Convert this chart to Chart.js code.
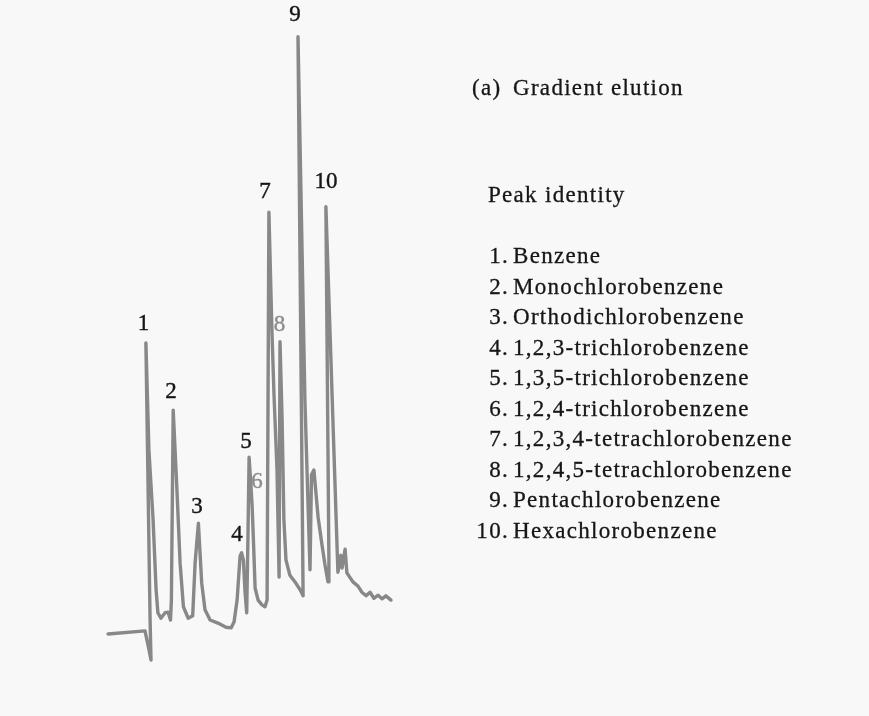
<!DOCTYPE html>
<html>
<head>
<meta charset="utf-8">
<script src="https://cdn.jsdelivr.net/npm/chart.js@4.4.1/dist/chart.umd.min.js"></script>
<style>
  body { margin: 0; background: #f8f8f8; }
  #wrap { position: relative; width: 869px; height: 716px; }
  .txt {
    position: absolute;
    font-family: "Liberation Serif", "Times New Roman", serif;
    font-size: 23px;
    line-height: 23px;
    letter-spacing: 1.3px;
    color: #161616;
    -webkit-text-stroke: 0.3px #161616;
    white-space: nowrap;
  }
</style>
</head>
<body>
<div id="wrap">
  <canvas id="chrom" width="869" height="716"></canvas>
  <div class="txt" style="left:472px; top:76px;">(a)</div>
  <div class="txt" style="left:513px; top:76px;">Gradient elution</div>
  <div class="txt" style="left:488px; top:183px;">Peak identity</div>
  <div id="list"></div>
</div>
<script>
// retention time (min) / detector signal
const traceTime = [
    0.27, 1.50, 1.60, 1.70, 1.67, 1.53, 1.63, 1.77, 1.87, 1.93,
    2.03, 2.17, 2.27, 2.35, 2.38, 2.44, 2.56, 2.67, 2.78, 2.94,
    3.09, 3.17, 3.28, 3.39, 3.50, 3.67, 3.93, 4.20, 4.37, 4.47,
    4.57, 4.67, 4.72, 4.78, 4.83, 4.89, 4.93, 4.97, 5.02, 5.07,
    5.12, 5.17, 5.27, 5.40, 5.50, 5.57, 5.63, 5.73, 5.80, 5.90,
    5.97, 6.00, 6.07, 6.13, 6.20, 6.33, 6.50, 6.67, 6.77, 6.60,
    6.83, 7.00, 7.05, 7.13, 7.27, 7.40, 7.50, 7.60, 7.63, 7.53,
    7.93, 8.03, 8.07, 8.17, 8.23, 8.43, 8.60, 8.73, 8.87, 9.00,
    9.13, 9.27, 9.40, 9.53, 9.70
];
const traceSignal = [
    1.0, 1.5, -0.8, -3.3, 3.3, 49.1, 31.4, 19.8, 8.3, 4.5,
    3.6, 4.5, 4.6, 3.3, 6.6, 38.0, 25.3, 12.7, 5.5, 3.6,
    4.0, 12.7, 19.3, 9.4, 5.0, 3.3, 2.8, 2.1, 2.0, 3.0,
    6.6, 13.9, 14.4, 13.2, 8.3, 4.5, 16.5, 30.2, 26.4, 22.3,
    15.7, 8.6, 6.6, 5.8, 5.5, 6.6, 70.7, 51.2, 40.5, 28.1,
    10.4, 49.3, 36.4, 19.8, 13.2, 10.7, 9.6, 8.3, 7.3, 99.7,
    39.7, 11.6, 27.3, 28.1, 20.3, 15.7, 12.4, 9.6, 13.2, 71.6,
    11.2, 14.0, 11.9, 15.0, 11.1, 9.6, 8.9, 7.9, 7.3, 7.9,
    6.9, 7.4, 6.8, 7.3, 6.6
];

// peak numbers and where they sit above the trace
const peakNumbers = ['1', '2', '3', '4', '5', '6', '7', '8', '9', '10'];
const labelTime = [1.45, 2.37, 3.23, 4.57, 4.87, 5.23, 5.50, 5.98, 6.50, 7.53];
const labelSignal = [52.2, 41.0, 22.0, 17.4, 32.7, 26.1, 74.0, 52.1, 103.3, 75.7];
const greyLabels = ['6', '8'];

const compounds = [
    'Benzene',
    'Monochlorobenzene',
    'Orthodichlorobenzene',
    '1,2,3-trichlorobenzene',
    '1,3,5-trichlorobenzene',
    '1,2,4-trichlorobenzene',
    '1,2,3,4-tetrachlorobenzene',
    '1,2,4,5-tetrachlorobenzene',
    'Pentachlorobenzene',
    'Hexachlorobenzene'
];

// legend list on the right
const list = document.getElementById('list');
compounds.forEach((name, i) => {
    const top = 244 + i * 30.55;
    const num = document.createElement('div');
    num.className = 'txt';
    num.style.cssText = `right:${869 - 509}px; top:${top}px; text-align:right;`;
    num.textContent = (i + 1) + '.';
    list.appendChild(num);
    const lbl = document.createElement('div');
    lbl.className = 'txt';
    lbl.style.cssText = `left:513px; top:${top}px;`;
    lbl.textContent = name;
    list.appendChild(lbl);
});

const peakLabels = {
    id: 'peakLabels',
    afterDatasetsDraw(chart) {
        const { ctx, scales: { x, y } } = chart;
        ctx.save();
        ctx.font = '23px "Liberation Serif"';
        ctx.textAlign = 'center';
        ctx.textBaseline = 'middle';
        ctx.lineWidth = 0.4;
        peakNumbers.forEach((n, i) => {
            const col = greyLabels.includes(n) ? '#8c8c8c' : '#161616';
            ctx.fillStyle = col;
            ctx.strokeStyle = col;
            const px = x.getPixelForValue(labelTime[i]);
            const py = y.getPixelForValue(labelSignal[i]);
            ctx.fillText(n, px, py);
            ctx.strokeText(n, px, py);
        });
        ctx.restore();
    }
};

new Chart(document.getElementById('chrom'), {
    type: 'scatter',
    data: {
        datasets: [{
            data: traceTime.map((t, i) => ({ x: t, y: traceSignal[i] })),
            showLine: true,
            borderColor: '#888888',
            borderWidth: 3.4,
            pointRadius: 0,
            tension: 0,
            clip: false,
            borderJoinStyle: 'round',
            borderCapStyle: 'round'
        }]
    },
    options: {
        responsive: false,
        animation: false,
        layout: { padding: { left: 100, right: 469, top: 35, bottom: 76 } },
        plugins: {
            legend: { display: false },
            tooltip: { enabled: false }
        },
        scales: {
            x: { type: 'linear', min: 0, max: 10, display: false },
            y: { type: 'linear', min: 0, max: 100, display: false }
        }
    },
    plugins: [peakLabels]
});
</script>
</body>
</html>
